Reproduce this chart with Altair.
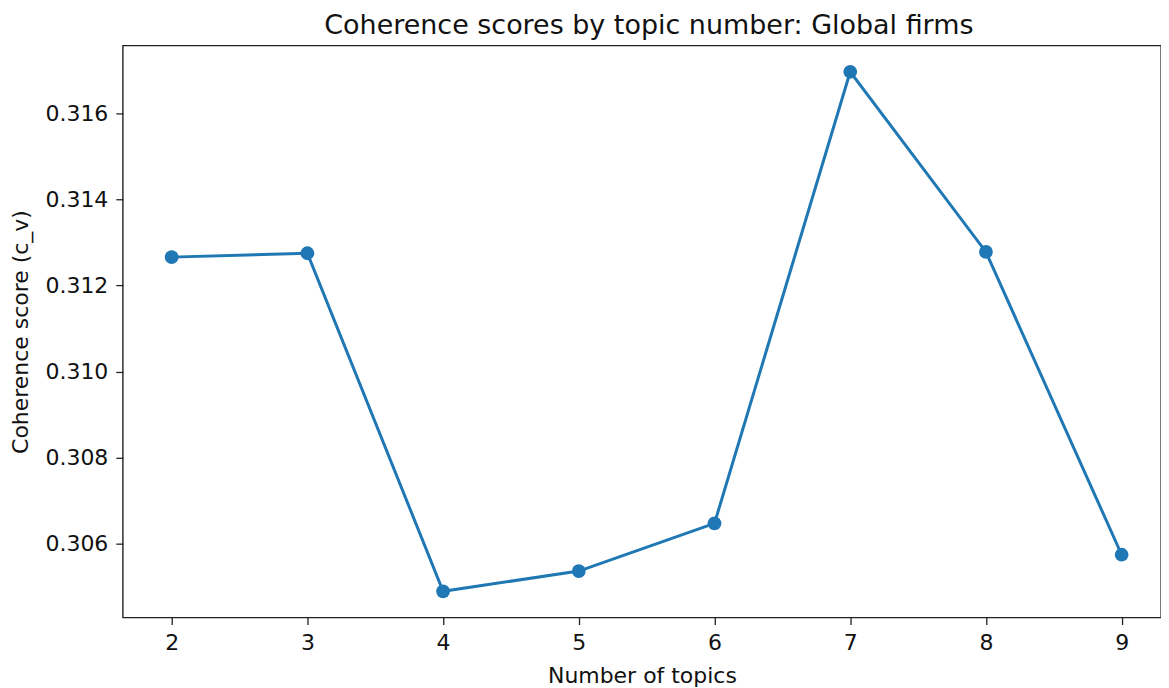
import altair as alt
import pandas as pd

topics = [2, 3, 4, 5, 6, 7, 8, 9]
scores = [0.31266, 0.31275, 0.30489, 0.30536, 0.30647, 0.31697, 0.31278, 0.30574]
y_ticks = [0.306, 0.308, 0.310, 0.312, 0.314, 0.316]

df = pd.DataFrame({"topics": topics, "score": scores})

FONT = "DejaVu Sans"
COLOR = "#1f77b4"

x = alt.X("topics:Q",
          scale=alt.Scale(domain=[1.64, 9.29], nice=False, zero=False),
          axis=alt.Axis(title="Number of topics", values=topics, format="d",
                        grid=False, domain=False, tickColor="#222", tickSize=7,
                        tickWidth=1.3, labelPadding=8, labelFontSize=22,
                        labelFont=FONT, labelColor="#111", titleFont=FONT,
                        titleFontSize=22, titleFontWeight="normal",
                        titleColor="#111", titlePadding=12))
y = alt.Y("score:Q",
          scale=alt.Scale(domain=[0.30428, 0.31758], nice=False, zero=False),
          axis=alt.Axis(title="Coherence score (c_v)", values=y_ticks, format=".3f",
                        grid=False, domain=False, tickColor="#222", tickSize=7,
                        tickWidth=1.3, labelPadding=8, labelFontSize=22,
                        labelFont=FONT, labelColor="#111", titleFont=FONT,
                        titleFontSize=22, titleFontWeight="normal",
                        titleColor="#111", titlePadding=12))

line = alt.Chart(df).mark_line(color=COLOR, strokeWidth=3).encode(x=x, y=y)
pts = alt.Chart(df).mark_circle(color=COLOR, size=190, opacity=1).encode(x=x, y=y)

chart = (line + pts).properties(
    width=1040, height=573,
    autosize=alt.AutoSizeParams(type="none"),
    padding={"left": 115, "top": 37, "right": 0, "bottom": 70},
    title=alt.TitleParams("Coherence scores by topic number: Global firms",
                          font=FONT, fontSize=27, fontWeight="normal",
                          color="#111", anchor="middle", offset=6, dx=7),
).configure(background="white").configure_view(stroke="#222", strokeWidth=1.4)

chart.save("out.html", embed_options={"renderer": "svg", "actions": False})
